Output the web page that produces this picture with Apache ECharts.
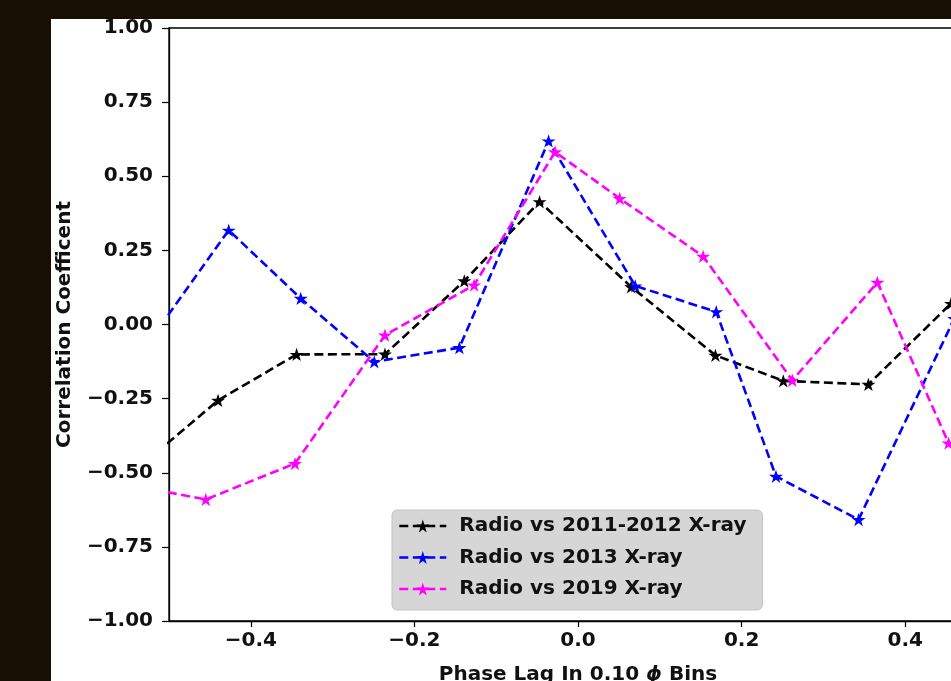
<!DOCTYPE html>
<html>
<head>
<meta charset="utf-8">
<script src="https://cdn.jsdelivr.net/npm/echarts@6/dist/echarts.min.js"></script>
<style>
  html, body { margin: 0; padding: 0; background: #170f03; }
  #container { width: 951px; height: 681px; }
</style>
</head>
<body>
<div id="container"></div>
<script>
// phase lag (x) and correlation (y) for each pairing
let lag2011 = [-0.54, -0.44, -0.344, -0.236, -0.139, -0.047, 0.065, 0.168, 0.251, 0.355, 0.456];
let corr2011 = [-0.49, -0.256, -0.101, -0.100, 0.147, 0.414, 0.127, -0.104, -0.190, -0.202, 0.071];

let lag2013 = [-0.53, -0.427, -0.339, -0.249, -0.145, -0.036, 0.070, 0.169, 0.242, 0.343, 0.46];
let corr2013 = [-0.08, 0.318, 0.088, -0.126, -0.078, 0.619, 0.130, 0.043, -0.512, -0.658, 0.02];

let lag2019 = [-0.55, -0.455, -0.346, -0.236, -0.127, -0.028, 0.051, 0.153, 0.262, 0.366, 0.453];
let corr2019 = [-0.54, -0.590, -0.469, -0.036, 0.133, 0.582, 0.425, 0.230, -0.188, 0.142, -0.40];

let seriesNames = ['Radio vs 2011-2012 X-ray', 'Radio vs 2013 X-ray', 'Radio vs 2019 X-ray'];
let seriesColors = ['#000000', '#0000ff', '#ff00ff'];
let xTicks = [-0.4, -0.2, 0.0, 0.2, 0.4];

const star = 'path://M50 0 L61.23 34.55 L97.55 34.55 L68.16 55.9 L79.39 90.45 L50 69.1 L20.61 90.45 L31.84 55.9 L2.45 34.55 L38.77 34.55 Z';
const font = 'DejaVu Sans';

function pairs(xs, ys) {
    return xs.map((x, i) => [x, ys[i]]);
}

function minus(s) {
    return s.replace('-', '\u2212');
}

var dom = document.getElementById('container');
var myChart = echarts.init(dom, null, { renderer: 'canvas' });

var allData = [pairs(lag2011, corr2011), pairs(lag2013, corr2013), pairs(lag2019, corr2019)];

var option = {
    backgroundColor: '#ffffff',
    animation: false,
    grid: {
        left: 169,
        top: 28,
        width: 818,
        height: 593,
        show: true,
        borderColor: '#000',
        borderWidth: 1.3,
        containLabel: false,
        outerBoundsMode: 'none'
    },
    legend: {
        orient: 'vertical',
        left: 392,
        top: 510,
        data: seriesNames,
        backgroundColor: '#d6d6d6',
        borderColor: '#c4c4c4',
        borderWidth: 1,
        borderRadius: 5,
        padding: [5, 16, 10, 6],
        itemWidth: 47,
        itemHeight: 16,
        itemGap: 9.5,
        lineStyle: { width: 2.6 },
        textStyle: {
            fontFamily: font,
            fontWeight: 'bold',
            fontSize: 20,
            lineHeight: 22,
            color: '#111',
            padding: [0, 0, 0, 8]
        }
    },
    xAxis: {
        type: 'value',
        min: -0.5,
        max: 0.5,
        name: 'Phase Lag In 0.10 {phi|\u03d5} Bins',
        nameLocation: 'middle',
        nameGap: 44,
        nameTextStyle: {
            fontFamily: font,
            fontWeight: 'bold',
            fontSize: 20,
            color: '#111',
            rich: {
                phi: { fontFamily: font, fontWeight: 'bold', fontStyle: 'italic', fontSize: 20, color: '#111' }
            }
        },
        axisLine: { show: true, onZero: false, lineStyle: { color: '#000', width: 1.3 } },
        axisTick: { show: true, inside: false, length: 6, customValues: xTicks, lineStyle: { color: '#000', width: 1.2 } },
        axisLabel: {
            customValues: xTicks,
            margin: 10,
            fontFamily: font,
            fontWeight: 'bold',
            fontSize: 20,
            color: '#111',
            formatter: v => minus(v.toFixed(1))
        },
        splitLine: { show: false }
    },
    yAxis: {
        type: 'value',
        min: -1,
        max: 1,
        interval: 0.25,
        name: 'Correlation Coefficent',
        nameLocation: 'middle',
        nameGap: 94,
        nameTextStyle: {
            fontFamily: font,
            fontWeight: 'bold',
            fontSize: 20,
            color: '#111'
        },
        axisLine: { show: true, onZero: false, lineStyle: { color: '#000', width: 1.3 } },
        axisTick: { show: true, inside: false, length: 7, lineStyle: { color: '#000', width: 1.2 } },
        axisLabel: {
            margin: 16,
            fontFamily: font,
            fontWeight: 'bold',
            fontSize: 20,
            color: '#111',
            formatter: v => minus(v.toFixed(2))
        },
        splitLine: { show: false }
    },
    series: seriesNames.map((name, i) => ({
        name: name,
        type: 'line',
        data: allData[i],
        clip: true,
        symbol: star,
        symbolKeepAspect: true,
        symbolSize: 14,
        itemStyle: { color: seriesColors[i] },
        lineStyle: { color: seriesColors[i], width: 2.6, type: [9, 4.5] },
        z: 3 + i
    })),
    graphic: [
        { type: 'rect', left: 0, top: 0, z: 100, shape: { width: 51, height: 681 }, style: { fill: '#170f03' } },
        { type: 'rect', left: 0, top: 0, z: 100, shape: { width: 951, height: 19 }, style: { fill: '#170f03' } }
    ]
};

myChart.setOption(option);
window.addEventListener('resize', myChart.resize);
</script>
</body>
</html>
